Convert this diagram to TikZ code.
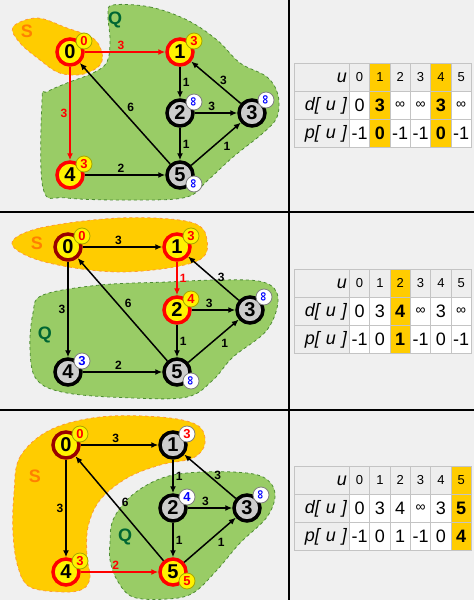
\documentclass[tikz,border=0pt]{standalone}
\usepackage{fontspec}
\setmainfont{Liberation Sans}
\usepackage{graphicx}
\usetikzlibrary{arrows.meta,positioning}

\definecolor{pagebg}{HTML}{F0F0F0}
\definecolor{gold}{HTML}{FFCC00}
\definecolor{sline}{HTML}{FF9933}
\definecolor{sorange}{HTML}{FF8000}
\definecolor{qgreen}{HTML}{99CC66}
\definecolor{qline}{HTML}{4D8C33}
\definecolor{qdark}{HTML}{006633}
\definecolor{nodegray}{HTML}{CCCCCC}
\definecolor{darkred}{HTML}{990000}
\definecolor{badgeline}{HTML}{A6A600}
\definecolor{cellgray}{HTML}{EEEEEE}
\definecolor{cellline}{HTML}{C4C4C4}

\newcommand{\vinf}{\rotatebox{90}{∞}}
\newcommand{\tinf}{{\fontsize{14}{14}\selectfont ∞}}

\tikzset{
  vtx/.style={circle, minimum size=26pt, inner sep=0pt, line width=3.5pt,
    font=\bfseries\fontsize{20}{20}\selectfont},
  done/.style={vtx, fill=yellow, draw=red},
  src/.style={vtx, fill=yellow, draw=darkred},
  unseen/.style={vtx, fill=nodegray, draw=black},
  ybadge/.style={circle, minimum size=16pt, inner sep=0pt, line width=0.8pt,
    fill=yellow, draw=badgeline, text=red, font=\bfseries\fontsize{13}{13}\selectfont},
  wbadge/.style={ybadge, fill=white, draw=gray, text=blue},
  link/.style={-{Latex[length=7pt,width=6pt]}, line width=1.5pt},
  rlink/.style={link, draw=red},
  wt/.style={font=\bfseries\fontsize{12}{12}\selectfont, inner sep=2pt},
  rwt/.style={wt, text=red},
  sset/.style={fill=gold, draw=sline, dashed, line width=0.8pt},
  qset/.style={fill=qgreen, draw=qline, dashed, line width=0.8pt},
  slab/.style={text=sorange, font=\bfseries\fontsize{18}{18}\selectfont},
  qlab/.style={text=qdark, font=\bfseries\fontsize{18}{18}\selectfont},
  cell/.style={draw=cellline, line width=0.8pt, minimum width=20.33pt,
    minimum height=28pt, inner sep=0pt, anchor=north west},
  hd/.style={cell, fill=cellgray, font=\fontsize{13}{13}\selectfont},
  hdh/.style={hd, fill=gold},
  dv/.style={cell, fill=white, font=\fontsize{18}{18}\selectfont},
  dvh/.style={dv, fill=gold, font=\bfseries\fontsize{18}{18}\selectfont},
  lab/.style={cell, fill=cellgray, minimum width=55pt, text width=50pt,
    inner xsep=2.5pt, align=right, font=\itshape\fontsize{18}{18}\selectfont}
}

\begin{document}
\begin{tikzpicture}[x=1pt, y=-1pt]
\fill[pagebg] (0,0) rectangle (474,600);
\useasboundingbox (0,0) rectangle (474,600);

% step 1
\draw[qset] plot[smooth cycle, tension=0.6] coordinates {(113,5) (150,7) (187,20)
  (217,40) (240,63) (267,77) (278,95) (277,117) (263,133) (233,157) (207,181)
  (187,197) (140,200) (67,198) (43,188) (42,100) (47,92) (67,83) (93,73)
  (107,62) (110,40) (108,15)};
\draw[sset] plot[smooth cycle, tension=0.6] coordinates {(13,27) (37,18) (67,28)
  (93,38) (102,53) (100,65) (87,73) (73,75) (57,72) (40,60) (20,43)};
\node[slab] (s1) at (27,31) {S};
\node[qlab] (q1) at (115,20) {Q};

\node[done] (a0) at (70,52) {0};
\node[done] (a1) at (180,52) {1};
\node[unseen] (a2) at (180,113) {2};
\node[unseen] (a3) at (252,113) {3};
\node[done] (a4) at (70,175) {4};
\node[unseen] (a5) at (180,175) {5};

\draw[rlink] (a0) -- node[rwt, above, pos=0.45] {3} (a1);
\draw[rlink] (a0) -- node[rwt, left] {3} (a4);
\draw[link] (a1) -- node[wt, right] {1} (a2);
\draw[link] (a2) -- node[wt, above, pos=0.4] {3} (a3);
\draw[link] (a2) -- node[wt, right] {1} (a5);
\draw[link] (a3) -- node[wt, above=1pt, pos=0.35] {3} (a1);
\draw[link] (a5) -- node[wt, right=5pt, pos=0.56] {6} (a0);
\draw[link] (a4) -- node[wt, above, pos=0.45] {2} (a5);
\draw[link] (a5) -- node[wt, below right, pos=0.6] {1} (a3);

\node[ybadge] (a0b) at ([shift={(14,-11)}]a0) {0};
\node[ybadge] (a1b) at ([shift={(14,-11)}]a1) {3};
\node[wbadge] (a2b) at ([shift={(14,-11)}]a2) {\vinf};
\node[wbadge] (a3b) at ([shift={(14,-13)}]a3) {\vinf};
\node[ybadge] (a4b) at ([shift={(14,-11)}]a4) {3};
\node[wbadge] (a5b) at ([shift={(14,9)}]a5) {\vinf};

\node[lab] (t1u) at (294,63) {u};
\node[lab] (t1d) at (294,91) {d[ u ]};
\node[lab] (t1p) at (294,119) {p[ u ]};
\foreach \s/\v [count=\i from 0] in {hd/0,hdh/1,hd/2,hd/3,hdh/4,hd/5}
  \node[\s] (t1u\i) at (349+20.33*\i,63) {\v};
\foreach \s/\v [count=\i from 0] in {dv/0,dvh/3,dv/\tinf,dv/\tinf,dvh/3,dv/\tinf}
  \node[\s] (t1d\i) at (349+20.33*\i,91) {\v};
\foreach \s/\v [count=\i from 0] in {dv/-1,dvh/0,dv/-1,dv/-1,dvh/0,dv/-1}
  \node[\s] (t1p\i) at (349+20.33*\i,119) {\v};

% step 2
\draw[qset] plot[smooth cycle, tension=0.6] coordinates {(33,313) (43,295)
  (100,285) (167,282) (217,280) (263,282) (278,298) (267,330) (233,357)
  (213,380) (187,397) (133,398) (67,393) (37,380) (30,350)};
\draw[sset] plot[smooth cycle, tension=0.6] coordinates {(12,244) (40,228)
  (120,218) (190,222) (207,240) (195,262) (120,272) (45,262)};
\node[slab] (s2) at (37,243) {S};
\node[qlab] (q2) at (45,335) {Q};

\node[src] (b0) at (68,247) {0};
\node[done] (b1) at (177,247) {1};
\node[done] (b2) at (177,310) {2};
\node[unseen] (b3) at (250,310) {3};
\node[unseen] (b4) at (68,372) {4};
\node[unseen] (b5) at (177,372) {5};

\draw[link] (b0) -- node[wt, above, pos=0.45] {3} (b1);
\draw[link] (b0) -- node[wt, left] {3} (b4);
\draw[rlink] (b1) -- node[rwt, right] {1} (b2);
\draw[link] (b2) -- node[wt, above, pos=0.4] {3} (b3);
\draw[link] (b2) -- node[wt, right] {1} (b5);
\draw[link] (b3) -- node[wt, above=1pt, pos=0.35] {3} (b1);
\draw[link] (b5) -- node[wt, right=5pt, pos=0.56] {6} (b0);
\draw[link] (b4) -- node[wt, above, pos=0.45] {2} (b5);
\draw[link] (b5) -- node[wt, below right, pos=0.6] {1} (b3);

\node[ybadge] (b0b) at ([shift={(14,-11)}]b0) {0};
\node[ybadge] (b1b) at ([shift={(14,-11)}]b1) {3};
\node[ybadge] (b2b) at ([shift={(14,-11)}]b2) {4};
\node[wbadge] (b3b) at ([shift={(14,-13)}]b3) {\vinf};
\node[wbadge] (b4b) at ([shift={(14,-11)}]b4) {3};
\node[wbadge] (b5b) at ([shift={(14,9)}]b5) {\vinf};

\node[lab] (t2u) at (294,269) {u};
\node[lab] (t2d) at (294,297) {d[ u ]};
\node[lab] (t2p) at (294,325) {p[ u ]};
\foreach \s/\v [count=\i from 0] in {hd/0,hd/1,hdh/2,hd/3,hd/4,hd/5}
  \node[\s] (t2u\i) at (349+20.33*\i,269) {\v};
\foreach \s/\v [count=\i from 0] in {dv/0,dv/3,dvh/4,dv/\tinf,dv/3,dv/\tinf}
  \node[\s] (t2d\i) at (349+20.33*\i,297) {\v};
\foreach \s/\v [count=\i from 0] in {dv/-1,dv/0,dvh/1,dv/-1,dv/0,dv/-1}
  \node[\s] (t2p\i) at (349+20.33*\i,325) {\v};

% step 3
\draw[sset] plot[smooth cycle, tension=0.6] coordinates {(14,493) (20,457)
  (50,430) (100,417) (160,417) (197,425) (205,443) (193,458) (160,465)
  (127,478) (100,500) (88,527) (87,557) (90,577) (83,589) (63,592) (30,587)
  (18,567) (13,533)};
\draw[qset] plot[smooth cycle, tension=0.6] coordinates {(110,543) (113,520)
  (130,497) (157,480) (187,473) (233,472) (263,477) (275,493) (267,517)
  (240,543) (217,570) (193,593) (167,599) (133,597) (117,580) (110,560)};
\node[slab] (s3) at (35,476) {S};
\node[qlab] (q3) at (125,537) {Q};

\node[src] (c0) at (66,445) {0};
\node[unseen] (c1) at (173,445) {1};
\node[unseen] (c2) at (173,508) {2};
\node[unseen] (c3) at (247,508) {3};
\node[done] (c4) at (66,572) {4};
\node[done] (c5) at (173,572) {5};

\draw[link] (c0) -- node[wt, above, pos=0.45] {3} (c1);
\draw[link] (c0) -- node[wt, left] {3} (c4);
\draw[link] (c1) -- node[wt, right] {1} (c2);
\draw[link] (c2) -- node[wt, above, pos=0.4] {3} (c3);
\draw[link] (c2) -- node[wt, right] {1} (c5);
\draw[link] (c3) -- node[wt, above=1pt, pos=0.35] {3} (c1);
\draw[link] (c5) -- node[wt, right=5pt, pos=0.56] {6} (c0);
\draw[rlink] (c4) -- node[rwt, above, pos=0.45] {2} (c5);
\draw[link] (c5) -- node[wt, below right, pos=0.6] {1} (c3);

\node[ybadge] (c0b) at ([shift={(14,-11)}]c0) {0};
\node[wbadge, text=red] (c1b) at ([shift={(14,-11)}]c1) {3};
\node[wbadge] (c2b) at ([shift={(14,-11)}]c2) {4};
\node[wbadge] (c3b) at ([shift={(14,-13)}]c3) {\vinf};
\node[ybadge] (c4b) at ([shift={(14,-11)}]c4) {3};
\node[ybadge] (c5b) at ([shift={(14,9)}]c5) {5};

\node[lab] (t3u) at (294,466) {u};
\node[lab] (t3d) at (294,494) {d[ u ]};
\node[lab] (t3p) at (294,522) {p[ u ]};
\foreach \s/\v [count=\i from 0] in {hd/0,hd/1,hd/2,hd/3,hd/4,hdh/5}
  \node[\s] (t3u\i) at (349+20.33*\i,466) {\v};
\foreach \s/\v [count=\i from 0] in {dv/0,dv/3,dv/4,dv/\tinf,dv/3,dvh/5}
  \node[\s] (t3d\i) at (349+20.33*\i,494) {\v};
\foreach \s/\v [count=\i from 0] in {dv/-1,dv/0,dv/1,dv/-1,dv/0,dvh/4}
  \node[\s] (t3p\i) at (349+20.33*\i,522) {\v};

% frame lines
\draw[line width=2pt] (289,0) -- (289,600);
\draw[line width=2pt] (0,212) -- (474,212);
\draw[line width=2pt] (0,410) -- (474,410);
\end{tikzpicture}
\end{document}
